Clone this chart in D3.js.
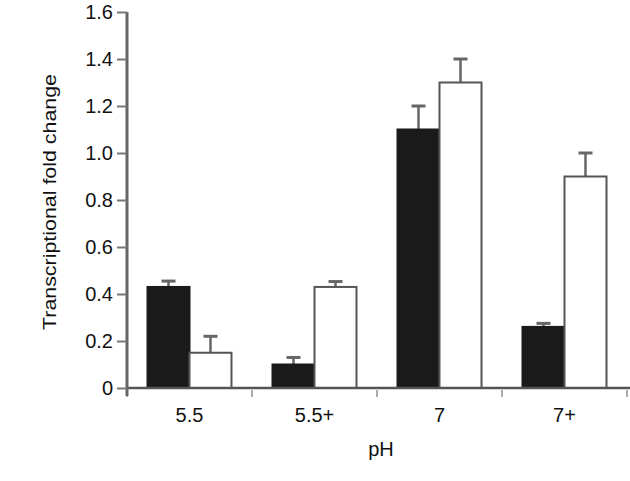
<!DOCTYPE html>
<html><head><meta charset="utf-8">
<script src="https://cdn.jsdelivr.net/npm/d3@7/dist/d3.min.js"></script>
<style>body{margin:0;background:#fff}svg{display:block}text{font-family:"Liberation Sans",Arial,Helvetica,sans-serif}</style>
</head><body>
<script>
const categories = ["5.5", "5.5+", "7", "7+"];
const blackValues = [0.43, 0.10, 1.10, 0.26];
const blackErrors = [0.025, 0.03, 0.10, 0.015];
const whiteValues = [0.15, 0.43, 1.30, 0.90];
const whiteErrors = [0.07, 0.023, 0.10, 0.10];
const yTicks = [0, 0.2, 0.4, 0.6, 0.8, 1.0, 1.2, 1.4, 1.6];

const W = 630, H = 481;
const m = {left: 127, top: 12, right: 3, bottom: 93};
const FS = 20;
const svg = d3.select("body").append("svg").attr("width", W).attr("height", H);

const x = d3.scaleBand().domain(categories).range([m.left, W - m.right]).paddingInner(0).paddingOuter(0);
const y = d3.scaleLinear().domain([0, 1.6]).range([H - m.bottom, m.top]);
const bw = x.bandwidth() * 0.336;
const off = x.bandwidth() * 0.164;

const series = [
  {vals: blackValues, errs: blackErrors, fill: "#1a1a1a", stroke: "#1a1a1a", idx: 0},
  {vals: whiteValues, errs: whiteErrors, fill: "#ffffff", stroke: "#555", idx: 1}
];

// error bars (upward only)
series.forEach(s => {
  const g = svg.append("g");
  categories.forEach((c, i) => {
    const cx = x(c) + off + s.idx * bw + bw / 2;
    g.append("line").attr("x1", cx).attr("x2", cx)
      .attr("y1", y(s.vals[i])).attr("y2", y(s.vals[i] + s.errs[i]))
      .attr("stroke", "#666").attr("stroke-width", 2.5);
    g.append("line").attr("x1", cx - 7).attr("x2", cx + 7)
      .attr("y1", y(s.vals[i] + s.errs[i])).attr("y2", y(s.vals[i] + s.errs[i]))
      .attr("stroke", "#666").attr("stroke-width", 3);
  });
});

// bars
series.forEach(s => {
  svg.append("g").selectAll("rect").data(categories).join("rect")
    .attr("x", c => x(c) + off + s.idx * bw)
    .attr("y", (c, i) => y(s.vals[i]))
    .attr("width", bw)
    .attr("height", (c, i) => y(0) - y(s.vals[i]))
    .attr("fill", s.fill)
    .attr("stroke", s.stroke)
    .attr("stroke-width", 2);
});

// x axis
const xAxis = svg.append("g").attr("transform", `translate(0,${y(0)})`)
  .call(d3.axisBottom(x).tickSize(0).tickPadding(20));
xAxis.select(".domain").attr("d", `M${m.left},0H${W}`).attr("stroke", "#555").attr("stroke-width", 2.5);
xAxis.selectAll("text").attr("font-size", FS).attr("fill", "#111");
const bounds = categories.map(c => x(c)).concat([x(categories[categories.length - 1]) + x.bandwidth()]);
xAxis.selectAll(".bnd").data(bounds).join("line").attr("class", "bnd")
  .attr("x1", d => d).attr("x2", d => d).attr("y1", 2).attr("y2", 9)
  .attr("stroke", "#aaa").attr("stroke-width", 2);

// y axis
const yAxis = svg.append("g").attr("transform", `translate(${m.left},0)`)
  .call(d3.axisLeft(y).tickValues(yTicks).tickSize(10).tickPadding(4)
    .tickFormat(d => d === 0 ? "0" : d3.format(".1f")(d)));
yAxis.select(".domain").attr("d", `M0,${m.top}V${y(0) + 8}`).attr("stroke", "#666").attr("stroke-width", 3);
yAxis.selectAll(".tick line").attr("stroke", "#777").attr("stroke-width", 2);
yAxis.selectAll("text").attr("font-size", FS).attr("fill", "#111");

// labels
svg.append("text").attr("x", 381).attr("y", 456).attr("text-anchor", "middle")
  .attr("font-size", FS).attr("fill", "#111").text("pH");
svg.append("text").attr("transform", `translate(56,202) rotate(-90)`)
  .attr("text-anchor", "middle").attr("font-size", 18).attr("fill", "#111")
  .attr("textLength", 256).attr("lengthAdjust", "spacingAndGlyphs")
  .text("Transcriptional fold change");
</script>
</body></html>
